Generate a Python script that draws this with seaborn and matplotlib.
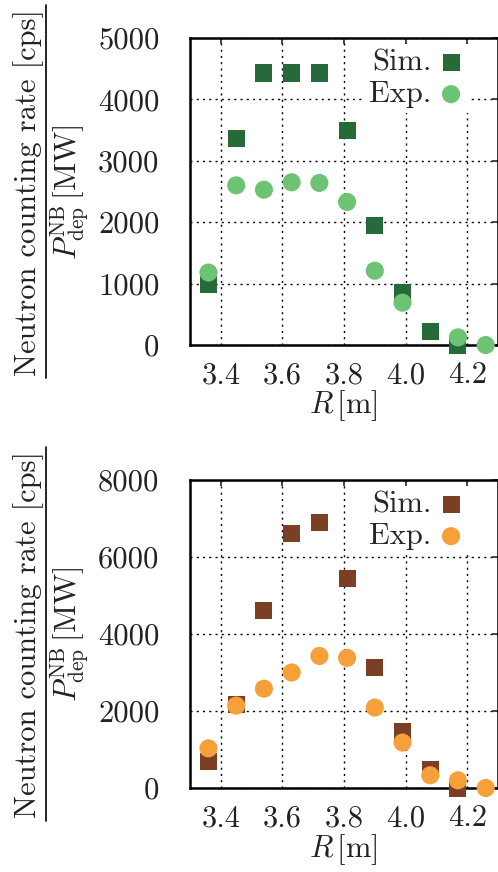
import matplotlib
matplotlib.use("Agg")
import matplotlib.pyplot as plt
import seaborn as sns
import pandas as pd
from matplotlib.lines import Line2D

sns.set_style("white")
plt.rcParams["font.family"] = ["serif"]
plt.rcParams["font.serif"] = ["cmr10", "DejaVu Serif"]
plt.rcParams["mathtext.fontset"] = "cm"
plt.rcParams["axes.formatter.use_mathtext"] = True

# ---- data ----
top_sim_R = [3.36, 3.45, 3.54, 3.63, 3.72, 3.81, 3.90, 3.99, 4.08, 4.17]
top_sim = [990, 3370, 4430, 4430, 4430, 3500, 1950, 860, 216, 0]
top_exp_R = [3.36, 3.45, 3.54, 3.63, 3.72, 3.81, 3.90, 3.99, 4.17, 4.26]
top_exp = [1180, 2600, 2530, 2650, 2640, 2330, 1210, 690, 125, 0]

bot_sim_R = [3.36, 3.45, 3.54, 3.63, 3.72, 3.81, 3.90, 3.99, 4.08, 4.17]
bot_sim = [700, 2180, 4600, 6610, 6900, 5440, 3120, 1480, 480, 0]
bot_exp_R = [3.36, 3.45, 3.54, 3.63, 3.72, 3.81, 3.90, 3.99, 4.08, 4.17, 4.26]
bot_exp = [1030, 2140, 2580, 3000, 3430, 3380, 2090, 1180, 330, 200, 0]

xticks = [3.4, 3.6, 3.8, 4.0, 4.2]
xticklabels = ["3.4", "3.6", "3.8", "4.0", "4.2"]
top_yticks = [0, 1000, 2000, 3000, 4000, 5000]
bot_yticks = [0, 2000, 4000, 6000, 8000]

top_colors = ("#266a3a", "#6cc374")
bot_colors = ("#7a3f24", "#f6a03a")

FS = 22

fig = plt.figure(figsize=(4.98, 8.72), dpi=100)
W, H = 498, 872

def make_axes(top_px, bot_px):
    return fig.add_axes([190 / W, 1 - bot_px / H, 308 / W, (bot_px - top_px) / H])

ax1 = make_axes(38, 345)
ax2 = make_axes(480, 788)

def draw(ax, sim_R, sim, exp_R, exp, colors, yticks, ymax):
    df_s = pd.DataFrame({"R": sim_R, "v": sim})
    df_e = pd.DataFrame({"R": exp_R, "v": exp})
    sns.scatterplot(data=df_s, x="R", y="v", ax=ax, marker="s", s=150,
                    color=colors[0], edgecolor="none", label="Sim.",
                    clip_on=False, zorder=3)
    sns.scatterplot(data=df_e, x="R", y="v", ax=ax, marker="o", s=170,
                    color=colors[1], edgecolor="none", label="Exp.",
                    clip_on=False, zorder=4)
    ax.set_xlim(3.3, 4.3)
    ax.set_ylim(0, ymax)
    ax.set_xticks(xticks)
    ax.set_xticklabels(xticklabels)
    ax.set_yticks(yticks)
    ax.set_yticklabels([str(t) for t in yticks])
    ax.grid(True, color="black", linestyle=(0, (1.5, 3)), linewidth=1.0)
    ax.set_axisbelow(True)
    for sp in ax.spines.values():
        sp.set_linewidth(1.8)
        sp.set_color("black")
    ax.tick_params(axis="both", which="both", direction="in", length=4,
                   width=1.2, top=True, right=True, labelsize=FS,
                   labelcolor="#222222")
    ax.tick_params(axis="y", pad=22)
    ax.tick_params(axis="x", pad=12)
    ax.set_xlabel("")
    ax.set_ylabel("")
    leg = ax.legend(loc="upper right", bbox_to_anchor=(0.912, 0.98),
                    markerfirst=False, frameon=True,
                    fancybox=False, framealpha=1.0, edgecolor="white",
                    fontsize=FS, handletextpad=0.15, labelspacing=0.15,
                    borderpad=0.15, borderaxespad=0.0, handlelength=1.0)
    leg.get_frame().set_linewidth(0)

draw(ax1, top_sim_R, top_sim, top_exp_R, top_exp, top_colors, top_yticks, 5000)
draw(ax2, bot_sim_R, bot_sim, bot_exp_R, bot_exp, bot_colors, bot_yticks, 8000)

def labels(center_y_px, line_top_px, line_bot_px, xlabel_y_px):
    fig.text(29 / W, 1 - center_y_px / H, "Neutron counting rate [cps]",
             rotation=90, ha="center", va="center", fontsize=FS,
             color="#222222")
    fig.add_artist(Line2D([46 / W, 46 / W], [1 - line_top_px / H, 1 - line_bot_px / H],
                          color="black", linewidth=1.2))
    fig.text(70 / W, 1 - center_y_px / H,
             r"$P_{\rm dep}^{\rm NB}\,[\rm MW]$",
             rotation=90, ha="center", va="center", fontsize=FS,
             color="#222222")
    fig.text(343 / W, 1 - xlabel_y_px / H, r"$R\,[\rm m]$",
             ha="center", va="center", fontsize=FS, color="#222222")

labels(192, 5, 378, 406)
labels(634, 447, 821, 850)

fig.savefig("out.png", dpi=100)
